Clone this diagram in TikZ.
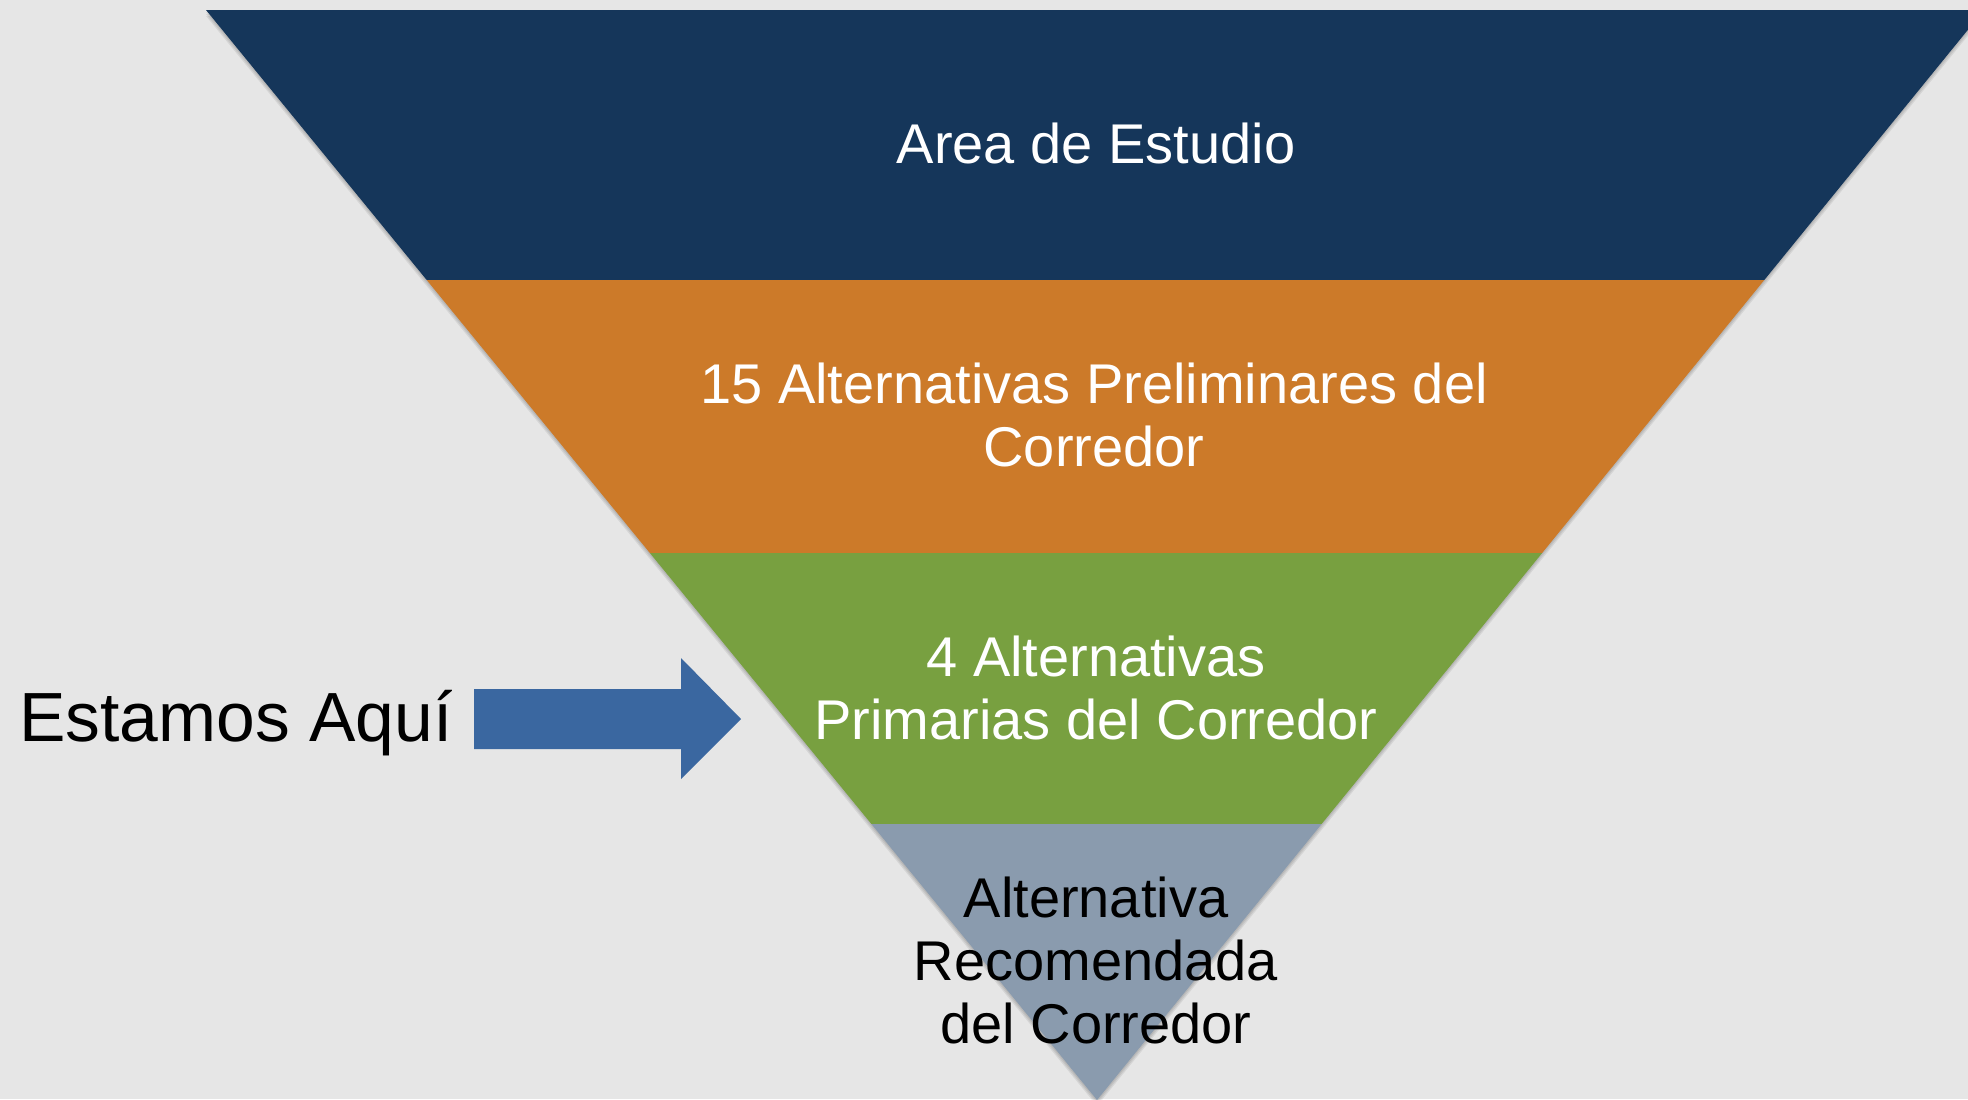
\documentclass[tikz,border=0pt]{standalone}
\usepackage{fontspec}
\setmainfont{Liberation Sans}
\usepackage{tikz}
\definecolor{bgcol}{HTML}{E6E6E6}
\definecolor{navyband}{HTML}{15365A}
\definecolor{orangeband}{HTML}{CC7A29}
\definecolor{greenband}{HTML}{78A040}
\definecolor{greyband}{HTML}{8A9BAE}
\definecolor{arrowblue}{HTML}{3A67A0}

\begin{document}
\begin{tikzpicture}[x=0.5pt,y=-0.5pt,
    bandtext/.style={inner sep=0pt,align=center,anchor=base,font=\fontsize{28}{31.5}\selectfont}]
\fill[bgcol] (0,0) rectangle (1968,1099);
\useasboundingbox (0,0) rectangle (1968,1099);
\coordinate (tl) at (206,10);
\coordinate (tr) at (1984,10);
\coordinate (apex) at (1097,1100);
\foreach \s in {2,4,6}
    \fill[black,opacity=.07] ([shift={(0,\s)}]tl) -- ([shift={(0,\s)}]tr) -- ([shift={(0,\s)}]apex) -- cycle;
\begin{scope}
    \clip (tl) -- (tr) -- (apex) -- cycle;
    \fill[navyband] (0,0) rectangle (1968,280);
    \fill[orangeband] (0,280) rectangle (1968,553);
    \fill[greenband] (0,553) rectangle (1968,824);
    \fill[greyband] (0,824) rectangle (1968,1100);
\end{scope}
\node[bandtext,white] (study) at (1096,163) {Area de Estudio};
\node[bandtext,white] (prelim) at (1094,466) {15 Alternativas Preliminares del\\Corredor};
\node[bandtext,white] (primary) at (1096,739) {4 Alternativas\\Primarias del Corredor};
\node[bandtext,black] (recommended) at (1096,1043) {Alternativa\\Recomendada\\del Corredor};
\node[inner sep=0pt,anchor=base west,font=\fontsize{34.8}{40}\selectfont] (here) at (19,741) {Estamos Aquí};
\fill[arrowblue] (474,689) -- (681,689) -- (681,658) -- (741,719) -- (681,779) -- (681,749) -- (474,749) -- cycle;
\end{tikzpicture}
\end{document}
